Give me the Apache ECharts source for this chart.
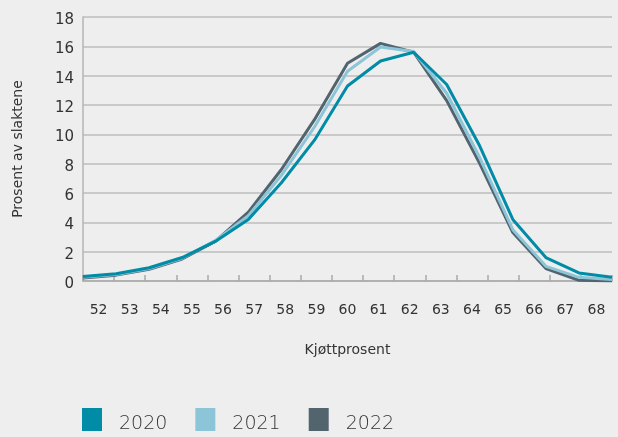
<!DOCTYPE html>
<html>
<head>
<meta charset="utf-8">
<script src="https://cdn.jsdelivr.net/npm/echarts@6/dist/echarts.min.js"></script>
<style>
  html, body { margin: 0; padding: 0; background: #eeeeee; }
  #chart { width: 618px; height: 437px; }
</style>
</head>
<body>
<div id="chart"></div>
<script>
// Kjøttprosent categories (x axis)
const categories = ['52','53','54','55','56','57','58','59','60','61','62','63','64','65','66','67','68'];

// Share of carcasses (%) per meat percentage, by year
const values2020 = [0.3, 0.5, 0.9, 1.6, 2.7, 4.2, 6.7, 9.6, 13.3, 15.0, 15.6, 13.4, 9.2, 4.2, 1.6, 0.55, 0.25];
const values2021 = [0.25, 0.45, 0.85, 1.55, 2.75, 4.45, 7.2, 10.5, 14.3, 15.95, 15.65, 12.8, 8.4, 3.5, 1.0, 0.25, 0.1];
const values2022 = [0.2, 0.4, 0.8, 1.5, 2.7, 4.7, 7.6, 11.0, 14.85, 16.2, 15.6, 12.3, 8.0, 3.3, 0.85, 0.05, 0.0];

const seriesNames = ['2020', '2021', '2022'];
const yTicks = { min: 0, max: 18, step: 2 };

const colors = { y2020: '#008ba6', y2021: '#8bc5d7', y2022: '#52646e' };
const textColor = '#333333';
const font = 'DejaVu Sans';

const chart = echarts.init(document.getElementById('chart'), null, { renderer: 'canvas' });

chart.setOption({
  backgroundColor: '#eeeeee',
  animation: false,
  grid: { left: 83, right: 6, top: 17, bottom: 156, containLabel: false },
  legend: {
    data: seriesNames,
    left: 82,
    top: 408,
    padding: 0,
    itemWidth: 20,
    itemHeight: 23,
    itemGap: 28,
    icon: 'rect',
    formatter: '{t|{name}}',
    textStyle: {
      color: textColor, fontFamily: font, fontSize: 19, fontWeight: 200,
      rich: { t: { color: textColor, fontFamily: font, fontSize: 19, fontWeight: 200, padding: [9, 0, 0, 12] } }
    }
  },
  xAxis: [
    {
      type: 'category',
      data: categories,
      boundaryGap: true,
      name: 'Kjøttprosent',
      nameLocation: 'middle',
      nameGap: 62,
      nameTextStyle: { color: textColor, fontFamily: font, fontSize: 14 },
      axisLine: { show: true, lineStyle: { color: '#a9a9a9', width: 1.5 } },
      axisTick: { show: true, inside: true, length: 6, lineStyle: { color: '#a9a9a9', width: 1.5 } },
      axisLabel: { color: textColor, fontFamily: font, fontSize: 14, margin: 22 },
      splitLine: { show: false }
    },
    {
      // data axis: points sit on the category boundaries from edge to edge
      type: 'category',
      data: categories,
      boundaryGap: false,
      show: false
    }
  ],
  yAxis: {
    type: 'value',
    min: yTicks.min,
    max: yTicks.max,
    interval: yTicks.step,
    name: 'Prosent av slaktene',
    nameLocation: 'middle',
    nameRotate: 90,
    nameGap: 58,
    nameTextStyle: { color: textColor, fontFamily: font, fontSize: 14 },
    axisLine: { show: true, lineStyle: { color: '#b5b5b5', width: 1.5 } },
    axisTick: { show: false },
    axisLabel: { color: textColor, fontFamily: font, fontSize: 15, margin: 9, verticalAlign: 'top', lineHeight: 6 },
    splitLine: { show: true, lineStyle: { color: '#bdbdbd', width: 1.5 } }
  },
  series: [
    {
      name: '2020', type: 'line', xAxisIndex: 1, data: values2020,
      symbol: 'none', z: 5,
      lineStyle: { color: colors.y2020, width: 3 }, itemStyle: { color: colors.y2020 }
    },
    {
      name: '2021', type: 'line', xAxisIndex: 1, data: values2021,
      symbol: 'none', z: 4,
      lineStyle: { color: colors.y2021, width: 3 }, itemStyle: { color: colors.y2021 }
    },
    {
      name: '2022', type: 'line', xAxisIndex: 1, data: values2022,
      symbol: 'none', z: 3,
      lineStyle: { color: colors.y2022, width: 3 }, itemStyle: { color: colors.y2022 }
    }
  ]
});
</script>
</body>
</html>
